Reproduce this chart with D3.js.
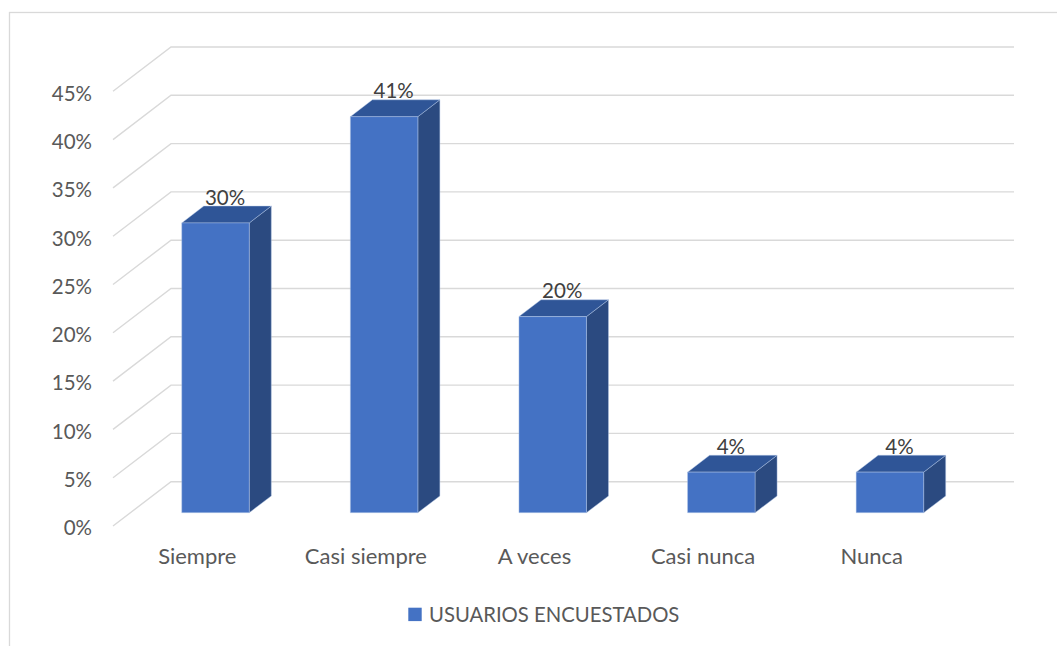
<!DOCTYPE html>
<html>
<head>
<meta charset="utf-8">
<script src="https://cdn.jsdelivr.net/npm/d3@7"></script>
<style>
  html, body { margin: 0; padding: 0; background: #ffffff; }
  svg { display: block; }
  text { font-family: Lato, "Open Sans", sans-serif; }
</style>
</head>
<body>
<svg id="chart" width="1057" height="646"></svg>
<script>
// ---- data ----
const categories = ["Siempre", "Casi siempre", "A veces", "Casi nunca", "Nunca"];
const values = [30, 41, 20.3, 4.2, 4.2];
const valueLabels = ["30%", "41%", "20%", "4%", "4%"];
const tickValues = [0, 5, 10, 15, 20, 25, 30, 35, 40, 45];
const tickLabels = ["0%", "5%", "10%", "15%", "20%", "25%", "30%", "35%", "40%", "45%"];
const seriesName = "USUARIOS ENCUESTADOS";

// ---- layout ----
const svg = d3.select("#chart");

// chart border
svg.append("rect")
  .attr("x", 9.5).attr("y", 12.5)
  .attr("width", 1060).attr("height", 660)
  .attr("fill", "none").attr("stroke", "#D9D9D9").attr("stroke-width", 1.3);

// oblique depth vector (floor front -> back wall)
const depth = { dx: 58, dy: -44.3 };
const backLeft = 171, backRight = 1014;
const frontLeft = backLeft - depth.dx, frontRight = backRight - depth.dx;

// value scale on back wall
const y = d3.scaleLinear().domain([0, 45]).range([481.7, 47]);
// category scale on front floor edge
const x = d3.scaleBand().domain(categories).range([frontLeft, frontRight]).padding(0);

// gridlines
const grid = svg.append("g").attr("stroke", "#D9D9D9").attr("stroke-width", 1.4).attr("fill", "none");
tickValues.forEach(v => {
  const yb = y(v);
  grid.append("path")
    .attr("d", d3.line()([[frontLeft, yb - depth.dy], [backLeft, yb], [backRight, yb]]));
});

// y tick labels
svg.append("g").selectAll("text").data(tickValues).join("text")
  .attr("x", 92)
  .attr("y", v => y(v) - depth.dy + 9.3)
  .attr("text-anchor", "end")
  .attr("font-size", 20.5)
  .attr("fill", "#595959")
  .text((v, i) => tickLabels[i]);

// bars
const barFrac = 0.3, barDepthFrac = 0.38, barWidth = 67.5;
const offX = depth.dx * barFrac, offY = depth.dy * barFrac;
const bdx = depth.dx * barDepthFrac, bdy = depth.dy * barDepthFrac;
const y0 = y(0) - depth.dy; // floor front zero line

const bars = svg.append("g");
categories.forEach((c, i) => {
  const cx = x(c) + x.bandwidth() / 2 + offX + 0.8;
  const xl = cx - barWidth / 2, xr = cx + barWidth / 2;
  const yb = y0 + offY;
  const yt = yb - (y(0) - y(values[i]));
  const g = bars.append("g").attr("stroke", "rgba(180,199,231,0.55)").attr("stroke-width", 0.8).attr("stroke-linejoin", "round");
  // side face
  g.append("path").attr("fill", "#2B4A80")
    .attr("d", d3.line()([[xr, yt], [xr + bdx, yt + bdy], [xr + bdx, yb + bdy], [xr, yb]]) + "Z");
  // top face
  g.append("path").attr("fill", "#2F5597")
    .attr("d", d3.line()([[xl, yt], [xl + bdx, yt + bdy], [xr + bdx, yt + bdy], [xr, yt]]) + "Z");
  // front face
  g.append("rect").attr("fill", "#4472C4")
    .attr("x", xl).attr("y", yt).attr("width", barWidth).attr("height", yb - yt);
  // data label
  svg.append("text")
    .attr("x", cx + bdx / 2 - 1.5)
    .attr("y", yt + bdy - 1.5)
    .attr("text-anchor", "middle")
    .attr("font-size", 20.5)
    .attr("fill", "#404040")
    .text(valueLabels[i]);
});

// category labels
svg.append("g").selectAll("text").data(categories).join("text")
  .attr("x", c => x(c) + x.bandwidth() / 2)
  .attr("y", 564.3)
  .attr("text-anchor", "middle")
  .attr("font-size", 22)
  .attr("fill", "#595959")
  .text(c => c);

// legend
svg.append("rect").attr("x", 408.3).attr("y", 607.7).attr("width", 13.4).attr("height", 13.4).attr("fill", "#4472C4");
svg.append("text").attr("x", 429).attr("y", 621.7)
  .attr("font-size", 20.3).attr("fill", "#595959").text(seriesName);
</script>
</body>
</html>
